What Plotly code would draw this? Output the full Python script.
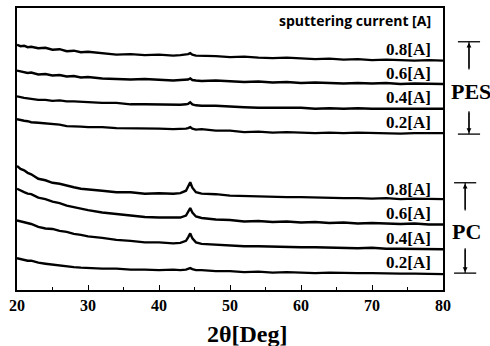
import plotly.graph_objects as go

two_theta = [20, 20.5, 21, 21.5, 22, 23, 24, 25, 26, 27, 28, 29, 30, 32, 34, 36, 38, 40, 42, 43,
             43.8, 44.1, 44.4, 44.7, 45.2, 46, 48, 50, 52, 54, 56, 58, 60, 62, 64, 66, 68, 70, 72, 74,
             76, 78, 80]

pes_08 = [247, 245.5, 246, 244.5, 245, 243.5, 244, 242, 242.5, 240.5, 241, 239.5, 240, 238.5, 237, 237.5,
          236.5, 237, 236, 236.5, 237, 237.5, 238.5, 237, 236, 236, 235.5, 234.5, 235, 234, 233.5, 234,
          233, 232.5, 233, 232, 232.5, 231.5, 232, 231.5, 231, 231.5, 231]
pes_06 = [221, 220, 219.5, 218.5, 219, 217, 217.5, 216, 216.5, 215, 215.5, 214, 214.5, 213, 212.5, 212, 212.5,
          211.5, 211, 211.5, 211.5, 212, 213, 211.5, 211, 210.5, 211, 210, 209.5, 210, 209, 209.5, 208.5,
          209, 208.5, 208, 208.5, 208, 208.5, 207.5, 208, 207.5, 207.5]
pes_04 = [195, 194, 193.5, 193, 192.5, 191.5, 191.5, 190.5, 191, 190, 190, 189.5, 189, 188.5, 188.5, 187, 187,
          186.5, 186, 186.5, 187, 187.5, 189, 187, 186, 185.5, 185.5, 184.5, 184, 183.5, 183.5, 183, 183.5,
          182.5, 183, 182.5, 183, 182.5, 182.5, 182, 182.5, 182, 182.5]
pes_02 = [172, 171, 170.5, 170, 169, 168.5, 168, 167, 166.5, 165, 165, 164.5, 164, 164, 163, 163, 162.5, 162.5,
          162, 162, 162.5, 163, 164, 162.5, 161.5, 162, 160.5, 160.5, 159, 159.5, 158.5, 159, 158.5, 158,
          158.5, 158, 158.5, 158, 158, 157.5, 158, 158, 158]
pc_08 = [125, 122, 120.5, 118, 116.5, 112, 110.5, 108, 107, 105, 103.5, 102, 101.5, 100, 98.5, 98.5, 97, 97.5,
         97, 97.5, 100, 104, 108.5, 103, 98.5, 97, 96.5, 95, 94.5, 94, 94, 93.5, 93.5, 93, 93, 92.5, 92.5, 92,
         92.5, 91.5, 92, 91.5, 91.5]
pc_06 = [102, 100, 98.5, 97, 96.5, 93, 91.5, 89, 87.5, 85, 83.5, 81.5, 80.5, 78, 76.5, 74.5, 73.5, 73, 73.5, 73,
         75, 79, 82.5, 78, 74, 72.5, 71, 70.5, 69, 69.5, 68.5, 69, 68, 68.5, 67.5, 68, 67, 67.5, 67, 66.5, 67,
         66, 66]
pc_04 = [70, 69, 68.5, 67, 66.5, 63.5, 62, 61.5, 59.5, 58.5, 56.5, 55.5, 54, 52.5, 50.5, 49.5, 48, 48, 47, 47.5,
         49.5, 53, 57, 52, 48, 46.5, 45.5, 45, 44, 44, 43.5, 43.5, 43, 43, 42.5, 42.5, 42, 42.5, 41.5, 41.5,
         41.5, 41, 41]
pc_02 = [32, 31, 30.5, 29.5, 29.5, 27.5, 26.5, 25.5, 24.5, 23.5, 23, 22.5, 22, 21.5, 21.5, 20.5, 20.5, 20, 20.5,
         20, 20.5, 21, 22, 21, 20, 20, 19, 19, 18, 18.5, 17.5, 18, 17.5, 17, 17.5, 17, 17, 17, 16.5, 16.5,
         16.5, 16, 16]

series = [pes_08, pes_06, pes_04, pes_02, pc_08, pc_06, pc_04, pc_02]
label_texts = ["0.8[A]", "0.6[A]", "0.4[A]", "0.2[A]", "0.8[A]", "0.6[A]", "0.4[A]", "0.2[A]"]
label_levels = [242, 218, 194, 169, 101, 77, 52, 28]
group_names = ["PES", "PC"]
group_levels = [200, 59]
group_brackets = [(250, 222, 180, 157), (108, 80, 42, 17)]

serif = "Liberation Serif"

fig = go.Figure()
for i, s in enumerate(series):
    fig.add_trace(go.Scatter(x=two_theta, y=s, mode="lines",
                             line=dict(color="black", width=2.4), showlegend=False))

ann = []
ann.append(dict(x=78.6, y=271, xref="x", yref="y", text="<b>sputtering current [A]</b>",
                showarrow=False, xanchor="right", yanchor="middle",
                font=dict(family="Open Sans", size=14, color="black")))
for t, lv in zip(label_texts, label_levels):
    ann.append(dict(x=78.6, y=lv, xref="x", yref="y", text="<b>" + t + "</b>", showarrow=False,
                    xanchor="right", yanchor="middle", font=dict(family=serif, size=17, color="black")))

xc = [1.061, 1.052]
shapes = []
for gi, (name, lv) in enumerate(zip(group_names, group_levels)):
    top, t_end, b_start, bot = group_brackets[gi]
    ann.append(dict(x=xc[gi] + 0.004, y=lv, xref="paper", yref="y", text="<b>" + name + "</b>",
                    showarrow=False, xanchor="center", yanchor="middle",
                    font=dict(family=serif, size=22, color="black")))
    for yv in (top, bot):
        shapes.append(dict(type="line", xref="paper", yref="y", x0=xc[gi] - 0.026, x1=xc[gi] + 0.026,
                           y0=yv, y1=yv, line=dict(color="black", width=1.3)))
    shapes.append(dict(type="line", xref="paper", yref="y", x0=xc[gi], x1=xc[gi], y0=top, y1=t_end,
                       line=dict(color="black", width=1.2)))
    shapes.append(dict(type="line", xref="paper", yref="y", x0=xc[gi], x1=xc[gi], y0=b_start, y1=bot,
                       line=dict(color="black", width=1.2)))
    ann.append(dict(x=xc[gi], y=top, xref="paper", yref="y", ax=0, ay=top - t_end,
                    text="", showarrow=True, arrowhead=2, arrowsize=0.8, arrowwidth=1.2,
                    arrowcolor="black", standoff=1))
    ann.append(dict(x=xc[gi], y=bot, xref="paper", yref="y", ax=0, ay=bot - b_start,
                    text="", showarrow=True, arrowhead=2, arrowsize=0.8, arrowwidth=1.2,
                    arrowcolor="black", standoff=1))

ann.append(dict(x=0.54, y=-0.155, xref="paper", yref="paper", text="<b>2θ[Deg]</b>", showarrow=False,
                xanchor="center", yanchor="middle", font=dict(family=serif, size=24, color="black")))

fig.update_layout(
    width=490, height=346,
    margin=dict(l=17, r=47, t=6, b=56),
    paper_bgcolor="white", plot_bgcolor="white",
    annotations=ann, shapes=shapes,
    xaxis=dict(range=[20, 80], tickmode="array", tickvals=[20, 30, 40, 50, 60, 70, 80],
               ticktext=["<b>20</b>", "<b>30</b>", "<b>40</b>", "<b>50</b>", "<b>60</b>", "<b>70</b>", "<b>80</b>"],
               ticks="inside", ticklen=5, tickwidth=1.2, tickcolor="black",
               minor=dict(tickvals=[25, 35, 45, 55, 65, 75], ticks="inside", ticklen=3, tickcolor="black"),
               showline=True, linecolor="black", linewidth=1.5, mirror=True,
               showgrid=False, zeroline=False,
               tickfont=dict(family=serif, size=16, color="black")),
    yaxis=dict(range=[0, 284], showticklabels=False, ticks="", showline=True, linecolor="black",
               linewidth=1.5, mirror=True, showgrid=False, zeroline=False),
)

fig.write_html("out.html", config={"displayModeBar": False},
               post_script="document.body.style.margin='0px';document.body.style.overflow='hidden';")
